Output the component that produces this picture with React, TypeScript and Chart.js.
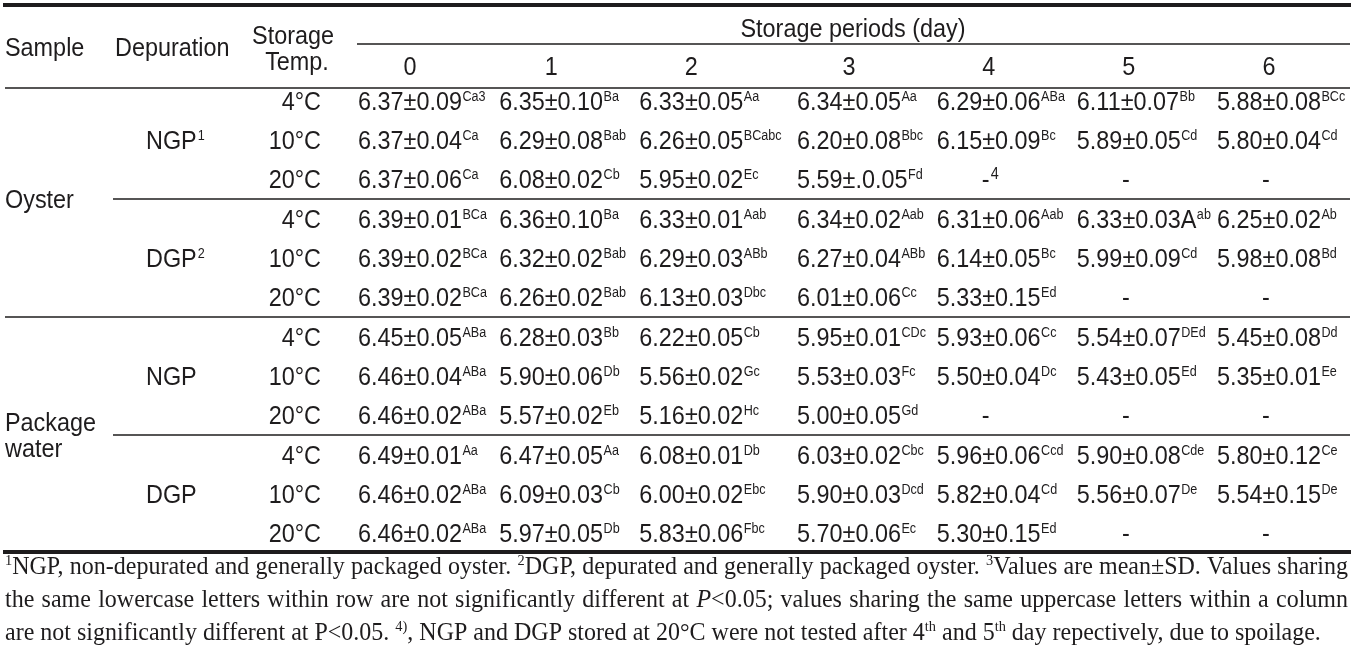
import React, { useEffect, useRef } from "react";
import { Chart, registerables } from "chart.js";

Chart.register(...registerables);

// ---------- data ----------
const days = ["0", "1", "2", "3", "4", "5", "6"];
const temps = ["4°C", "10°C", "20°C"];
const samples = ["Oyster", "Package water"];
const depurations = [
  { label: "NGP", note: "1" },
  { label: "DGP", note: "2" },
  { label: "NGP", note: "" },
  { label: "DGP", note: "" },
];

const oysterNGPValues = [
  ["6.37±0.09", "6.35±0.10", "6.33±0.05", "6.34±0.05", "6.29±0.06", "6.11±0.07", "5.88±0.08"],
  ["6.37±0.04", "6.29±0.08", "6.26±0.05", "6.20±0.08", "6.15±0.09", "5.89±0.05", "5.80±0.04"],
  ["6.37±0.06", "6.08±0.02", "5.95±0.02", "5.59±.0.05", "-", "-", "-"],
];
const oysterNGPLetters = [
  ["Ca3", "Ba", "Aa", "Aa", "ABa", "Bb", "BCc"],
  ["Ca", "Bab", "BCabc", "Bbc", "Bc", "Cd", "Cd"],
  ["Ca", "Cb", "Ec", "Fd", "4", "", ""],
];
const oysterDGPValues = [
  ["6.39±0.01", "6.36±0.10", "6.33±0.01", "6.34±0.02", "6.31±0.06", "6.33±0.03A", "6.25±0.02"],
  ["6.39±0.02", "6.32±0.02", "6.29±0.03", "6.27±0.04", "6.14±0.05", "5.99±0.09", "5.98±0.08"],
  ["6.39±0.02", "6.26±0.02", "6.13±0.03", "6.01±0.06", "5.33±0.15", "-", "-"],
];
const oysterDGPLetters = [
  ["BCa", "Ba", "Aab", "Aab", "Aab", "ab", "Ab"],
  ["BCa", "Bab", "ABb", "ABb", "Bc", "Cd", "Bd"],
  ["BCa", "Bab", "Dbc", "Cc", "Ed", "", ""],
];
const waterNGPValues = [
  ["6.45±0.05", "6.28±0.03", "6.22±0.05", "5.95±0.01", "5.93±0.06", "5.54±0.07", "5.45±0.08"],
  ["6.46±0.04", "5.90±0.06", "5.56±0.02", "5.53±0.03", "5.50±0.04", "5.43±0.05", "5.35±0.01"],
  ["6.46±0.02", "5.57±0.02", "5.16±0.02", "5.00±0.05", "-", "-", "-"],
];
const waterNGPLetters = [
  ["ABa", "Bb", "Cb", "CDc", "Cc", "DEd", "Dd"],
  ["ABa", "Db", "Gc", "Fc", "Dc", "Ed", "Ee"],
  ["ABa", "Eb", "Hc", "Gd", "", "", ""],
];
const waterDGPValues = [
  ["6.49±0.01", "6.47±0.05", "6.08±0.01", "6.03±0.02", "5.96±0.06", "5.90±0.08", "5.80±0.12"],
  ["6.46±0.02", "6.09±0.03", "6.00±0.02", "5.90±0.03", "5.82±0.04", "5.56±0.07", "5.54±0.15"],
  ["6.46±0.02", "5.97±0.05", "5.83±0.06", "5.70±0.06", "5.30±0.15", "-", "-"],
];
const waterDGPLetters = [
  ["Aa", "Aa", "Db", "Cbc", "Ccd", "Cde", "Ce"],
  ["ABa", "Cb", "Ebc", "Dcd", "Cd", "De", "De"],
  ["ABa", "Db", "Fbc", "Ec", "Ed", "", ""],
];

const headerTitle = "Storage periods (day)";

type Seg = { t: string; s?: "sup" | "it" };
const footLines: Seg[][] = [
  [
    { t: "1", s: "sup" },
    { t: "NGP, non-depurated and generally packaged oyster. " },
    { t: "2", s: "sup" },
    { t: "DGP, depurated and generally packaged oyster. " },
    { t: "3", s: "sup" },
    { t: "Values are mean±SD. Values sharing" },
  ],
  [
    { t: "the same lowercase letters within row are not significantly different at " },
    { t: "P", s: "it" },
    { t: "<0.05; values sharing the same uppercase letters within a column" },
  ],
  [
    { t: "are not significantly different at P<0.05. " },
    { t: "4)", s: "sup" },
    { t: ", NGP and DGP stored at 20°C were not tested after 4" },
    { t: "th", s: "sup" },
    { t: " and 5" },
    { t: "th", s: "sup" },
    { t: " day repectively, due to spoilage." },
  ],
];

// ---------- layout / style ----------
const W = 1354;
const H = 649;
const INK = "#1e1c1d";
const SANS = '"Liberation Sans", Arial, sans-serif';
const SERIF = '"Liberation Serif", "Times New Roman", serif';
const FS = 26;
const SX = 0.9;
const SUP_FS = 14;
const COL_NUDGE = [0, -2, -5, 9.5, 6, 3, 0];

const groupValues = [oysterNGPValues, oysterDGPValues, waterNGPValues, waterDGPValues];
const groupLetters = [oysterNGPLetters, oysterDGPLetters, waterNGPLetters, waterDGPLetters];

function txt(
  ctx: CanvasRenderingContext2D,
  s: string,
  x: number,
  y: number,
  size: number,
  align: CanvasTextAlign = "left",
  sx = SX
) {
  ctx.save();
  ctx.font = `${size}px ${SANS}`;
  ctx.textAlign = align;
  ctx.textBaseline = "alphabetic";
  ctx.translate(x, y);
  ctx.scale(sx, 1);
  ctx.fillText(s, 0, 0);
  const w = ctx.measureText(s).width * sx;
  ctx.restore();
  return w;
}

function hline(ctx: CanvasRenderingContext2D, x1: number, x2: number, y: number, lw: number) {
  ctx.save();
  ctx.strokeStyle = INK;
  ctx.lineWidth = lw;
  ctx.beginPath();
  ctx.moveTo(x1, y);
  ctx.lineTo(x2, y);
  ctx.stroke();
  ctx.restore();
}

const tablePlugin = {
  id: "tablePlugin",
  afterDatasetsDraw(chart: any) {
    const ctx: CanvasRenderingContext2D = chart.ctx;
    const xs = chart.scales.x;
    const ys = chart.scales.y;
    ctx.save();
    ctx.fillStyle = INK;

    // rules
    hline(ctx, 3, 1351, 5, 4);
    hline(ctx, 357, 1350, 44, 1.5);
    hline(ctx, 5, 1350, 88, 1.5);
    hline(ctx, 113, 1350, ys.getPixelForValue(2.5), 1.5);
    hline(ctx, 5, 1350, ys.getPixelForValue(5.5), 1.5);
    hline(ctx, 113, 1350, ys.getPixelForValue(8.5), 1.5);
    hline(ctx, 3, 1351, ys.getPixelForValue(11.5) - 1, 4);

    // headers
    txt(ctx, "Sample", 5, 56, FS);
    txt(ctx, "Depuration", 115, 56, FS);
    txt(ctx, "Storage", 293, 44, FS, "center");
    txt(ctx, "Temp.", 297, 70, FS, "center");
    txt(ctx, headerTitle, 853, 37, FS, "center");
    days.forEach((d, i) => {
      txt(ctx, d, xs.getPixelForValue(i) + COL_NUDGE[i] + 52, 75, FS, "center");
    });

    // left label columns
    for (let r = 0; r < 12; r++) {
      const y = ys.getPixelForValue(r) + 9;
      txt(ctx, temps[r % 3], 321, y, FS, "right");
    }
    depurations.forEach((d, g) => {
      const y = ys.getPixelForValue(g * 3 + 1) + 9;
      const w = txt(ctx, d.label, 146, y, FS);
      if (d.note) txt(ctx, d.note, 146 + w + 1, y - 9, SUP_FS);
    });
    const oy = ys.getPixelForValue(2.5);
    txt(ctx, samples[0], 5, oy + 9, FS);
    const py = ys.getPixelForValue(8.5);
    const parts = samples[1].split(" ");
    txt(ctx, parts[0], 5, py - 4, FS);
    txt(ctx, parts[1], 5, py + 22, FS);

    // cells
    chart.data.datasets.forEach((ds: any, di: number) => {
      const meta = chart.getDatasetMeta(di);
      meta.data.forEach((el: any, i: number) => {
        const p = ds.data[i];
        const x = el.x + COL_NUDGE[p.x];
        const y = el.y + 9;
        if (p.value === "-") {
          const cx = x + 49;
          txt(ctx, "-", cx, y, FS, "center");
          if (p.letters) txt(ctx, p.letters, cx + 5, y - 9, SUP_FS + 2);
        } else {
          const w = txt(ctx, p.value, x, y, FS);
          if (p.letters) txt(ctx, p.letters, x + w + 0.5, y - 9, SUP_FS);
        }
      });
    });

    // footnotes
    const fs = 25;
    const fsx = 0.96;
    const left = 5;
    const right = 1348;
    const baselines = [574, 607, 640];
    footLines.forEach((line, li) => {
      type Item = { text?: string; s?: string; space?: boolean; w: number };
      const items: Item[] = [];
      const fontFor = (s?: string) =>
        s === "sup" ? `${fs * 0.6}px ${SERIF}` : s === "it" ? `italic ${fs}px ${SERIF}` : `${fs}px ${SERIF}`;
      ctx.font = `${fs}px ${SERIF}`;
      const spaceW = ctx.measureText(" ").width * fsx;
      line.forEach((seg) => {
        seg.t.split(/( )/).forEach((piece) => {
          if (piece === "") return;
          if (piece === " ") items.push({ space: true, w: spaceW });
          else {
            ctx.font = fontFor(seg.s);
            items.push({ text: piece, s: seg.s, w: ctx.measureText(piece).width * fsx });
          }
        });
      });
      const justify = li < footLines.length - 1;
      let sw = spaceW;
      if (justify) {
        const wordsW = items.filter((it) => !it.space).reduce((a, b) => a + b.w, 0);
        const n = items.filter((it) => it.space).length;
        sw = (right - left - wordsW) / n;
      }
      let x = left;
      const by = baselines[li];
      items.forEach((it) => {
        if (it.space) {
          x += sw;
          return;
        }
        ctx.save();
        ctx.font = fontFor(it.s);
        ctx.textAlign = "left";
        ctx.textBaseline = "alphabetic";
        ctx.translate(x, it.s === "sup" ? by - fs * 0.38 : by);
        ctx.scale(fsx, 1);
        ctx.fillText(it.text as string, 0, 0);
        ctx.restore();
        x += it.w;
      });
    });

    ctx.restore();
  },
};

export default function App() {
  const ref = useRef<HTMLCanvasElement | null>(null);
  useEffect(() => {
    document.body.style.margin = "0";
    const canvas = ref.current;
    if (!canvas) return;
    const datasets = groupValues.map((g, gi) => ({
      label: `group${gi}`,
      data: g.flatMap((row, ri) =>
        row.map((v, d) => ({ x: d, y: gi * 3 + ri, value: v, letters: groupLetters[gi][ri][d] }))
      ),
      pointRadius: 0,
      pointHoverRadius: 0,
      showLine: false,
    }));
    const chart = new Chart(canvas, {
      type: "scatter",
      data: { datasets: datasets as any },
      options: {
        responsive: false,
        animation: false,
        devicePixelRatio: 1,
        layout: { padding: { left: 358, right: W - 1217, top: 81, bottom: H - 553 } },
        plugins: { legend: { display: false }, tooltip: { enabled: false } },
        events: [],
        scales: {
          x: { type: "linear", display: false, min: 0, max: 6 },
          y: { type: "linear", display: false, min: -0.5, max: 11.5, reverse: true },
        },
      },
      plugins: [tablePlugin],
    });
    return () => chart.destroy();
  }, []);
  return (
    <div style={{ width: W, height: H, background: "#fff" }}>
      <canvas ref={ref} width={W} height={H} style={{ display: "block" }} />
    </div>
  );
}
